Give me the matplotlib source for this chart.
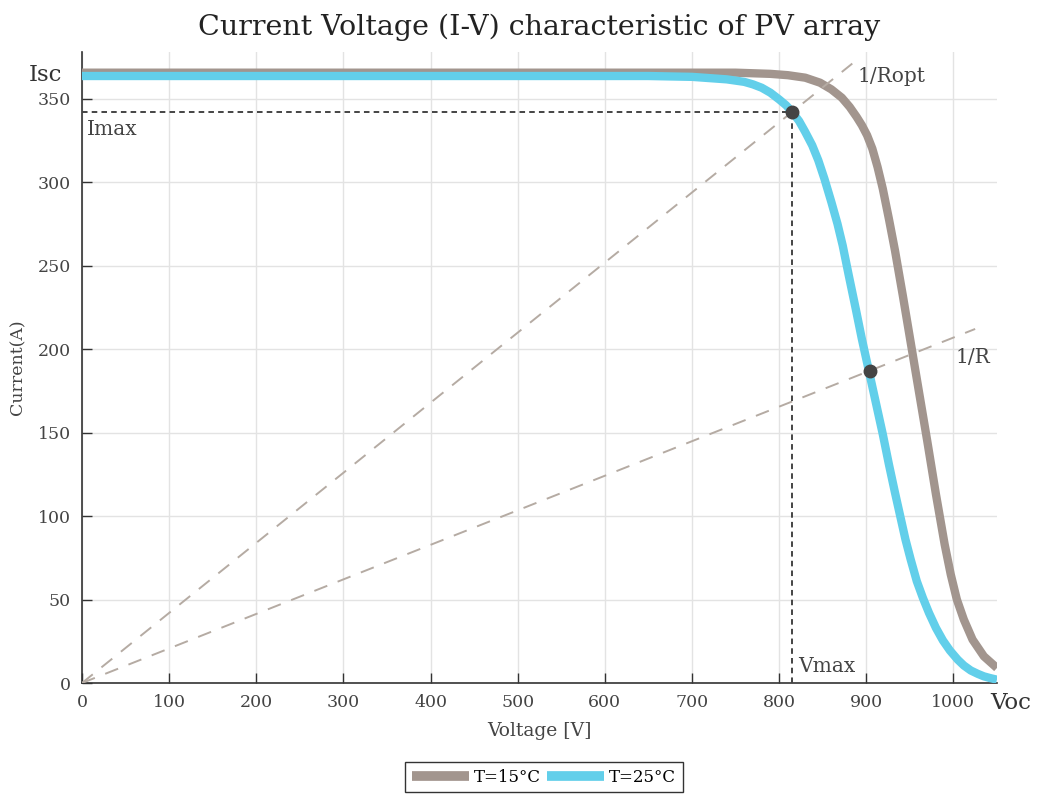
"""
I-V characteristic of a PV array at two temperatures
"""
import matplotlib
matplotlib.use("Agg")
import matplotlib.pyplot as plt
import matplotlib.transforms as mtransforms

# T=25°C curve (voltage [V], current [A])
v_25 = [0, 650, 700, 740, 760, 770, 780, 790, 800, 808, 815, 823, 830, 838, 845,
        852, 860, 867, 873, 880, 888, 895, 903, 911, 919, 926, 933, 939, 945,
        951, 958, 965, 972, 980, 988, 996, 1005, 1012, 1020, 1028, 1035, 1042, 1050]
i_25 = [363.5, 363.5, 363, 361.5, 360, 358.5, 356.5, 353.5, 349.5, 346, 342, 336.5, 330, 322, 313,
        302, 288, 275, 262, 244, 224, 206, 187, 168, 149, 131, 114, 100, 86,
        74, 61, 51, 42, 33, 25.5, 19.5, 14, 10.5, 7.5, 5.5, 4, 3, 2]

# T=15°C curve
v_15 = [0, 750, 790, 810, 830, 847, 860, 872, 881, 889, 895, 901, 907, 913, 919, 926,
        933, 942, 951, 960, 970, 980, 990, 997, 1004, 1012, 1022, 1035, 1050]
i_15 = [365.5, 365.5, 364.8, 364, 362.5, 359.5, 355.5, 350.5, 345, 339, 334, 328, 320, 309, 296, 278,
        259, 232, 204, 176, 145, 113, 83, 65, 50, 38, 26, 16, 9]

# operating points
v_max, i_max = 815, 342
v_r, i_r = 904, 187

# load lines
ropt_v = [0, 884]
r_v = [0, 1025]

i_sc = 364
x_ticks = [0, 100, 200, 300, 400, 500, 600, 700, 800, 900, 1000]
y_ticks = [0, 50, 100, 150, 200, 250, 300, 350]

plt.rcParams['font.family'] = ['DejaVu Serif']
plt.rcParams['lines.scale_dashes'] = False

col_15 = '#a2958e'
col_25 = '#62cfea'
col_load = '#b5aba3'
col_dark = '#444444'

fig = plt.figure(figsize=(10.4, 7.97), dpi=100)
ax = fig.add_axes([0.0788, 0.143, 0.8798, 0.792])

ax.plot(v_15, i_15, color=col_15, lw=6, solid_capstyle='butt',
        solid_joinstyle='round', label='T=15°C', zorder=3)
ax.plot(v_25, i_25, color=col_25, lw=6, solid_capstyle='butt',
        solid_joinstyle='round', label='T=25°C', zorder=4)

# load lines through the operating points
k_opt = i_max / v_max
k_r = i_r / v_r
ax.plot(ropt_v, [k_opt * v for v in ropt_v], color=col_load, lw=1.4,
        dashes=(10, 8), zorder=5)
ax.plot(r_v, [k_r * v for v in r_v], color=col_load, lw=1.4,
        dashes=(10, 8), zorder=5)

# maximum power point guides
ax.plot([0, v_max], [i_max, i_max], color=col_dark, lw=1.4, dashes=(4, 3), zorder=5)
ax.plot([v_max, v_max], [0, i_max], color=col_dark, lw=1.4, dashes=(4, 3), zorder=5)

ax.plot([v_max, v_r], [i_max, i_r], 'o', color=col_dark, ms=9, zorder=6)

ax.set_xlim(0, 1050)
ax.set_ylim(0, 378)
ax.set_xticks(x_ticks)
ax.set_yticks(y_ticks)
ax.grid(True, color='#e3e3e3', lw=1)
ax.set_axisbelow(True)
for s in ['top', 'right']:
    ax.spines[s].set_visible(False)
for s in ['left', 'bottom']:
    ax.spines[s].set_color('#333333')
    ax.spines[s].set_linewidth(1.2)
ax.tick_params(direction='in', length=7, width=1, colors='#333333',
               labelcolor='#444444', labelsize=12.5, pad=8)

ax.set_xlabel('Voltage [V]', fontsize=13.5, color='#444444', labelpad=8)
ax.set_ylabel('Current(A)', fontsize=12.5, color='#444444', labelpad=8)
ax.set_title('Current Voltage (I-V) characteristic of PV array', fontsize=20.5,
             color='#222222', pad=12)

# text annotations
trans = mtransforms.blended_transform_factory(ax.transAxes, ax.transData)
ax.text(-0.021, i_sc, 'Isc', transform=trans, ha='right', va='center',
        fontsize=16.5, color='#333333')
ax.text(1042, -12, 'Voc', ha='left', va='center', fontsize=16.5, color='#333333')
ax.text(6, 337, 'Imax', ha='left', va='top', fontsize=14.5, color='#444444')
ax.text(822, 10, 'Vmax', ha='left', va='center', fontsize=14.5, color='#444444')
ax.text(890, 363, '1/Ropt', ha='left', va='center', fontsize=14.5, color='#444444')
ax.text(1002, 195, '1/R', ha='left', va='center', fontsize=14.5, color='#444444')

leg = fig.legend(loc='center', bbox_to_anchor=(0.523, 0.025), ncol=2,
                 fontsize=12, handlelength=3.4, handletextpad=0.3,
                 columnspacing=0.4, fancybox=False, framealpha=1,
                 borderpad=0.4)
leg.get_frame().set_edgecolor('#333333')
for line in leg.get_lines():
    line.set_linewidth(7)

fig.savefig('out.png', dpi=100)
